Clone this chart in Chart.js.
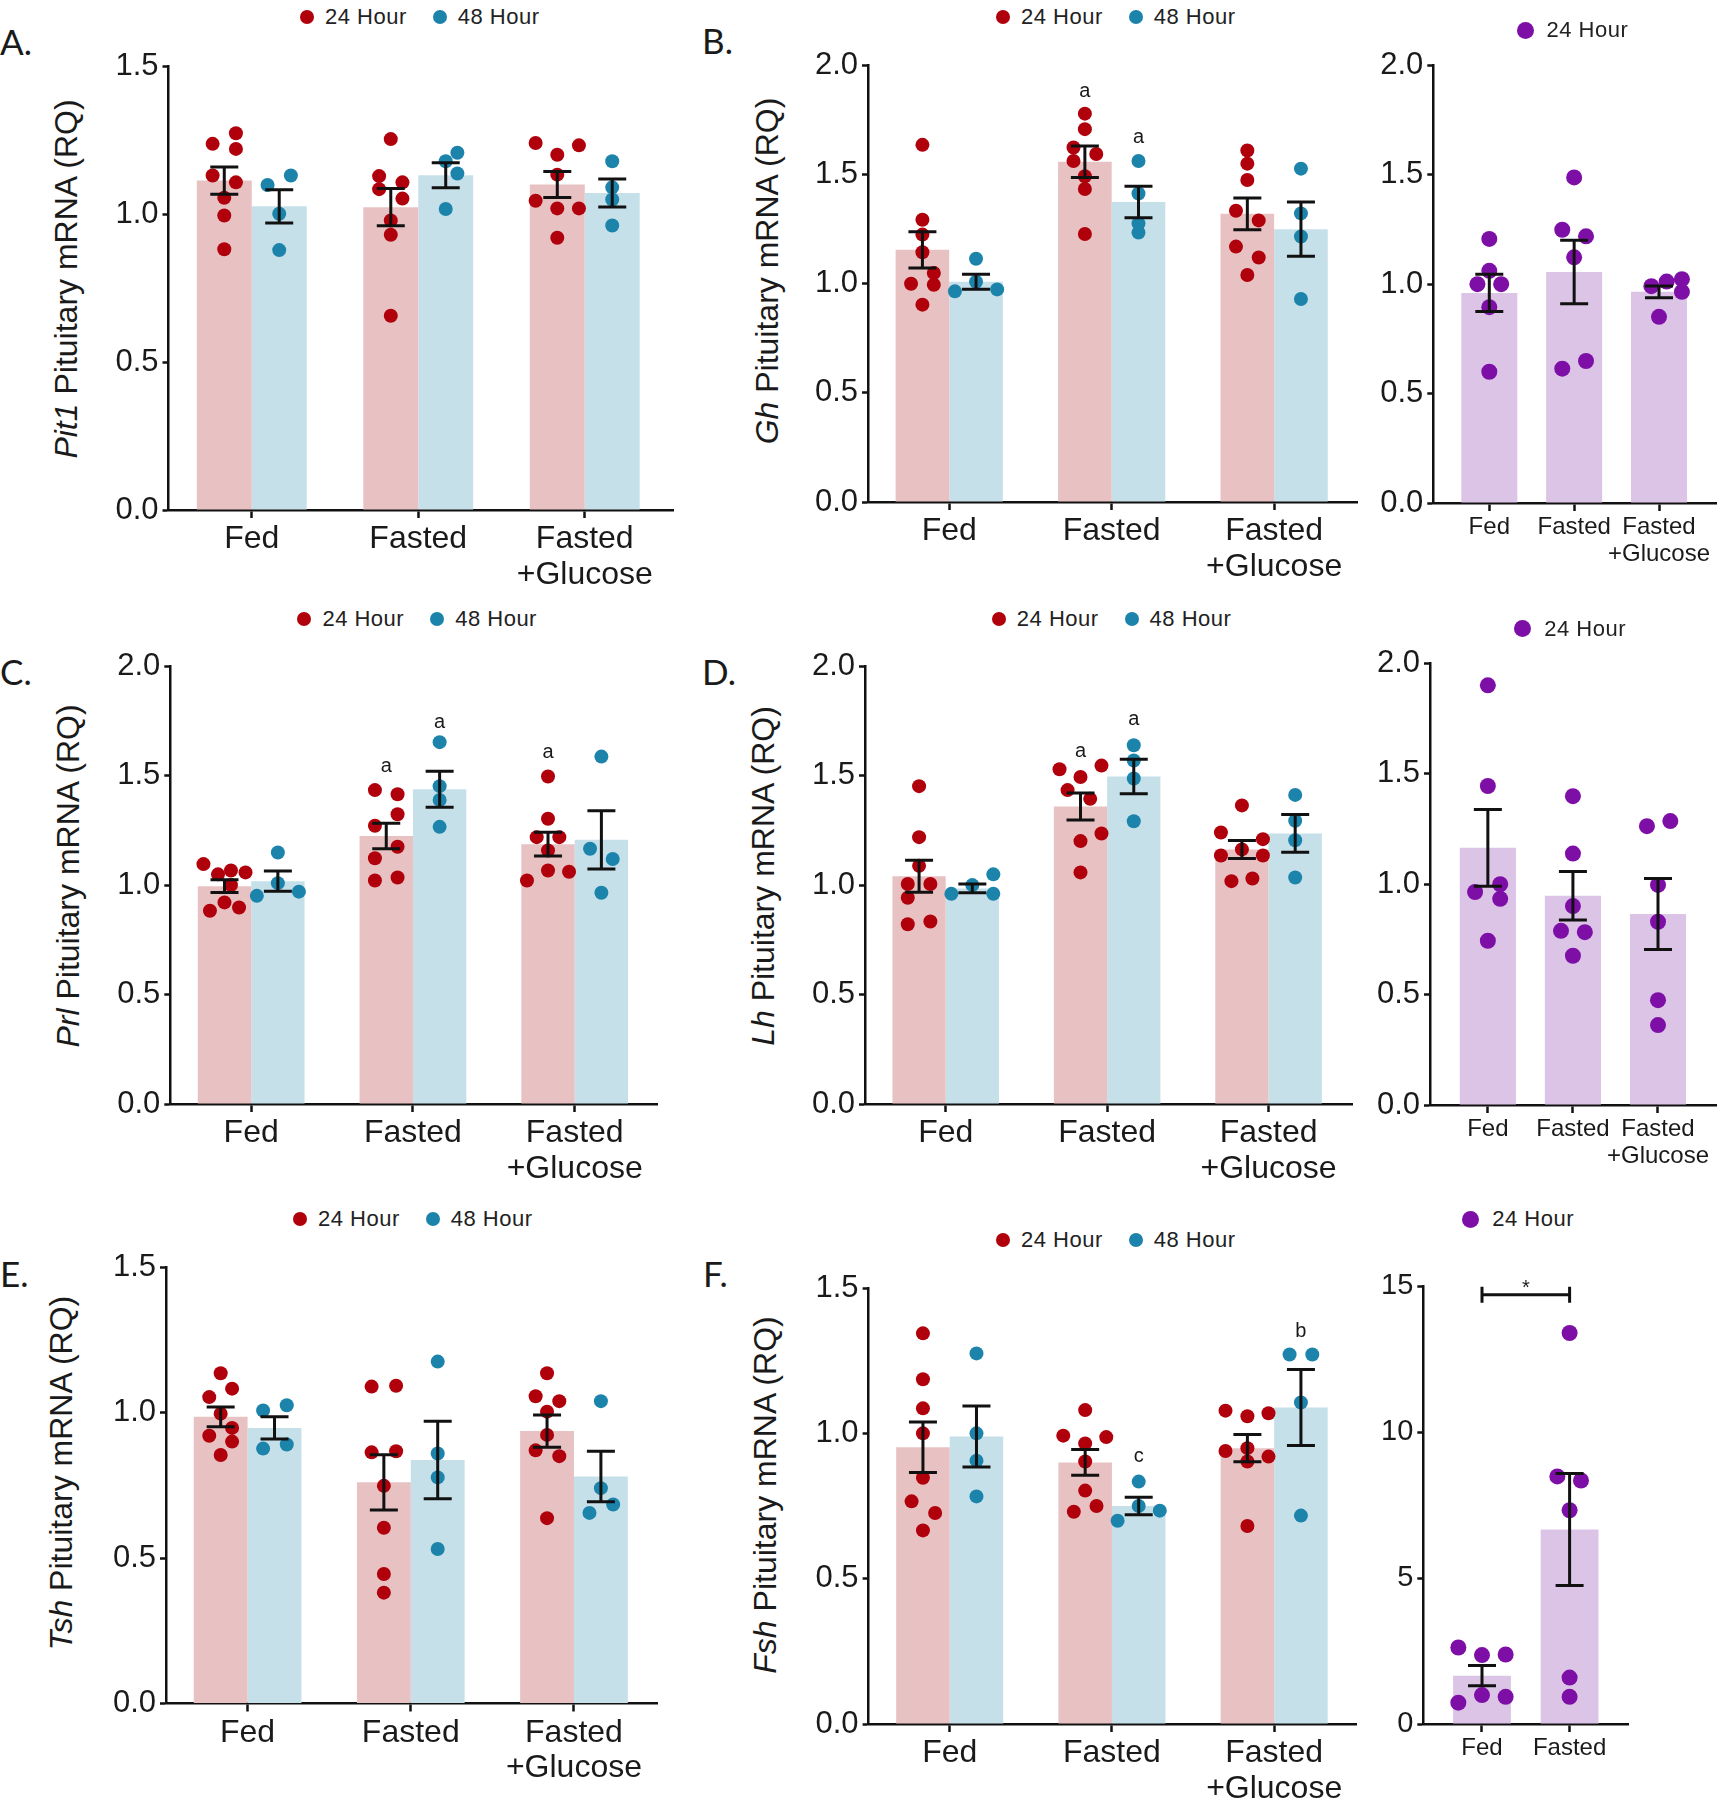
<!DOCTYPE html>
<html>
<head>
<meta charset="utf-8">
<title>Pituitary mRNA after fasting</title>
<script src="https://cdn.jsdelivr.net/npm/chart.js@4.4.1/dist/chart.umd.min.js"></script>
<style>
  html, body { margin: 0; padding: 0; background: #fff; }
  #figure { position: relative; width: 1725px; height: 1800px; overflow: hidden;
            font-family: 'Liberation Sans', Arial, Helvetica, sans-serif; color: #1a1a1a; }
  #figure canvas { position: absolute; }
  .panel-letter { position: absolute; font-family: Lato, 'Open Sans', sans-serif; font-size: 35px;
                  line-height: 1; transform: translateY(-50%); }
  .ytitle { position: absolute; font-size: 32px; white-space: nowrap; line-height: 1;
            transform: translate(-50%, -50%) rotate(-90deg); }
  .legend { position: absolute; display: flex; align-items: center; font-size: 22px; letter-spacing: 0.5px;
            white-space: nowrap; transform: translateY(-50%); color: #222; }
  .legend .item { display: flex; align-items: center; margin-right: 26px; }
  .legend .dot { display: inline-block; border-radius: 50%; margin-right: 11px; }
</style>
</head>
<body>
<div id="figure"></div>
<script>
// Groups and series
const GROUPS3 = ['Fed', 'Fasted', ['Fasted', '+Glucose']];
const GROUPS2 = ['Fed', 'Fasted'];

// A. Pit1
const pit1Mean24 = [1.113, 1.023, 1.100];
const pit1Sem24 = [0.046, 0.063, 0.044];
const pit1Mean48 = [1.026, 1.131, 1.071];
const pit1Sem48 = [0.056, 0.042, 0.047];
const pit1Pts24 = [
    [1.237, 1.273, 1.220, 1.130, 1.107, 1.055, 0.995, 0.881],
    [1.253, 1.128, 1.107, 1.084, 1.052, 0.978, 0.930, 0.656],
    [1.240, 1.232, 1.200, 1.133, 1.045, 1.019, 1.019, 0.920]
];
const pit1Jit24 = [
    [-0.07, 0.07, 0.07, -0.07, 0.07, 0, 0, 0],
    [0, -0.07, 0.07, -0.07, 0.07, 0, 0, 0],
    [-0.13, 0.13, 0, 0, -0.13, 0, 0.13, 0]
];
const pit1Pts48 = [
    [1.098, 1.130, 1.001, 0.878],
    [1.178, 1.207, 1.137, 1.017],
    [1.178, 1.090, 1.049, 0.961]
];
const pit1Jit48 = [[-0.07, 0.07, 0, 0], [0, 0.07, 0.07, 0], [0, 0, 0, 0]];

// B. Gh (24 vs 48 hour)
const ghMean24 = [1.155, 1.559, 1.320];
const ghSem24 = [0.083, 0.072, 0.073];
const ghMean48 = [1.009, 1.374, 1.250];
const ghSem48 = [0.034, 0.072, 0.124];
const ghPts24 = [
    [1.636, 1.293, 1.225, 1.144, 1.049, 1.000, 0.995, 0.904],
    [1.779, 1.708, 1.624, 1.562, 1.594, 1.492, 1.434, 1.228],
    [1.610, 1.550, 1.475, 1.334, 1.290, 1.170, 1.120, 1.040]
];
const ghJit24 = [
    [0, 0, 0, 0, 0.07, -0.07, 0.07, 0],
    [0, 0, -0.07, -0.07, 0.07, 0, 0, 0],
    [0, 0, 0, -0.07, 0.07, -0.07, 0.07, 0]
];
const ghPts48 = [
    [1.114, 1.009, 0.965, 0.974],
    [1.562, 1.413, 1.276, 1.234],
    [1.527, 1.322, 1.216, 0.930]
];
const ghJit48 = [[0, 0, -0.13, 0.13], [0, 0, 0, 0], [0, 0, 0, 0]];

// B. Gh (24 hour only)
const ghOnlyMean = [0.960, 1.056, 0.965];
const ghOnlySem = [0.085, 0.145, 0.027];
const ghOnlyPts = [
    [1.207, 1.061, 1.000, 1.000, 0.895, 0.600],
    [1.488, 1.249, 1.219, 1.123, 0.614, 0.649],
    [0.991, 1.012, 1.023, 0.965, 0.851]
];
const ghOnlyJit = [[0, 0, -0.14, 0.14, 0, 0], [0, -0.14, 0.14, 0, -0.14, 0.14], [-0.09, 0.09, 0.27, 0.27, 0]];

// C. Prl
const prlMean24 = [0.995, 1.224, 1.187];
const prlSem24 = [0.029, 0.058, 0.054];
const prlMean48 = [1.018, 1.438, 1.207];
const prlSem48 = [0.046, 0.082, 0.133];
const prlPts24 = [
    [1.096, 1.049, 1.067, 1.058, 1.000, 0.883, 0.921, 0.898],
    [1.434, 1.415, 1.324, 1.271, 1.175, 1.123, 1.021, 1.035],
    [1.496, 1.303, 1.219, 1.219, 1.158, 1.021, 1.067, 1.061]
];
const prlJit24 = [
    [-0.13, -0.04, 0.04, 0.13, 0.04, -0.09, 0, 0.09],
    [-0.07, 0.07, 0.07, -0.07, 0.07, -0.07, -0.07, 0.07],
    [0, 0, -0.07, 0.07, 0, -0.13, 0, 0.13]
];
const prlPts48 = [
    [1.149, 1.009, 0.951, 0.970],
    [1.653, 1.452, 1.389, 1.266],
    [1.587, 1.166, 1.119, 0.965]
];
const prlJit48 = [[0, 0, -0.13, 0.13], [0, 0, 0, 0], [0, -0.07, 0.07, 0]];

// D. Lh (24 vs 48 hour)
const lhMean24 = [1.040, 1.359, 1.163];
const lhSem24 = [0.073, 0.062, 0.041];
const lhMean48 = [0.985, 1.496, 1.236];
const lhSem48 = [0.020, 0.079, 0.086];
const lhPts24 = [
    [1.452, 1.219, 1.088, 1.005, 1.005, 0.942, 0.821, 0.834],
    [1.529, 1.546, 1.494, 1.434, 1.394, 1.236, 1.201, 1.058],
    [1.364, 1.240, 1.210, 1.163, 1.135, 1.135, 1.018, 1.030]
];
const lhJit24 = [
    [0, 0, 0, -0.07, 0.07, -0.07, -0.07, 0.07],
    [-0.13, 0.13, 0, -0.08, 0.06, 0.13, 0, 0],
    [0, -0.13, 0.13, 0, -0.13, 0.13, -0.065, 0.065]
];
const lhPts48 = [
    [0.960, 1.000, 1.049, 0.960],
    [1.639, 1.569, 1.487, 1.292],
    [1.412, 1.294, 1.205, 1.035]
];
const lhJit48 = [[-0.13, 0, 0.13, 0.13], [0, 0, 0, 0], [0, 0, 0, 0]];

// D. Lh (24 hour only)
const lhOnlyMean = [1.165, 0.948, 0.865];
const lhOnlySem = [0.174, 0.110, 0.161];
const lhOnlyPts = [
    [1.901, 1.445, 0.965, 1.000, 0.934, 0.744],
    [1.399, 1.139, 0.901, 0.789, 0.783, 0.676],
    [1.263, 1.286, 0.997, 0.830, 0.475, 0.362]
];
const lhOnlyJit = [[0, 0, -0.15, 0.145, 0.145, 0], [0, 0, 0, -0.14, 0.14, 0], [-0.13, 0.145, 0, 0, 0, 0]];

// E. Tsh
const tshMean24 = [0.985, 0.760, 0.936];
const tshSem24 = [0.034, 0.095, 0.055];
const tshMean48 = [0.947, 0.837, 0.780];
const tshSem48 = [0.038, 0.133, 0.087];
const tshPts24 = [
    [1.135, 1.053, 1.082, 0.996, 0.920, 0.947, 0.900, 0.854],
    [1.089, 1.092, 0.863, 0.867, 0.748, 0.604, 0.445, 0.381],
    [1.135, 1.056, 1.039, 1.003, 0.923, 0.870, 0.850, 0.637]
];
const tshJit24 = [
    [0, -0.07, 0.07, 0, -0.07, 0.07, 0.07, 0],
    [-0.075, 0.075, -0.075, 0.075, 0, 0, 0, 0],
    [0, -0.07, 0.075, 0, 0, -0.07, 0.075, 0]
];
const tshPts48 = [
    [1.007, 1.025, 0.876, 0.890],
    [1.175, 0.859, 0.777, 0.531],
    [1.039, 0.740, 0.655, 0.684]
];
const tshJit48 = [[-0.07, 0.075, -0.07, 0.075], [0, 0, 0, 0], [0, 0, -0.07, 0.075]];

// F. Fsh (24 vs 48 hour)
const fshMean24 = [0.952, 0.900, 0.949];
const fshSem24 = [0.087, 0.044, 0.047];
const fshMean48 = [0.989, 0.750, 1.089];
const fshSem48 = [0.105, 0.030, 0.131];
const fshPts24 = [
    [1.344, 1.186, 1.086, 1.000, 0.847, 0.766, 0.726, 0.666],
    [1.080, 0.992, 0.987, 0.965, 0.903, 0.803, 0.730, 0.750],
    [1.078, 1.059, 1.069, 0.949, 0.939, 0.920, 0.903, 0.681]
];
const fshJit24 = [
    [0, 0, 0, 0, 0, -0.07, 0.075, 0],
    [0, -0.135, 0.13, 0, 0, 0, -0.07, 0.07],
    [-0.135, 0, 0.13, 0, -0.135, 0.13, 0, 0]
];
const fshPts48 = [
    [1.275, 1.000, 0.906, 0.783],
    [0.834, 0.750, 0.699, 0.734],
    [1.271, 1.271, 1.106, 0.717]
];
const fshJit48 = [[0, 0, 0, 0], [0, 0, -0.13, 0.13], [-0.07, 0.07, 0, 0]];

// F. Fsh (24 hour only)
const fshOnlyMean = [1.656, 6.66];
const fshOnlySem = [0.35, 1.92];
const fshOnlyPts = [
    [2.62, 2.36, 2.38, 0.73, 0.99, 0.93],
    [13.39, 8.48, 8.34, 7.32, 1.59, 0.93]
];
const fshOnlyJit = [[-0.27, 0, 0.27, -0.27, 0, 0.27], [0, -0.14, 0.13, 0, 0, 0]];

// Colours
const INK = '#1a1a1a';
const AXIS = '#111111';
const S24 = { label: '24 Hour', dot: '#b0000c', bar: '#e8c2c3' };
const S48 = { label: '48 Hour', dot: '#1c84ab', bar: '#c6e0ea' };
const SP = { label: '24 Hour', dot: '#7e0fa6', bar: '#dcc4e7' };

Chart.defaults.font.family = "'Liberation Sans', Arial, Helvetica, sans-serif";
Chart.defaults.color = INK;

// Panel layout: area = chart area [left, top, right, bottom] on the page
const panels = [
    { letter: 'A.', letterAt: [0, 41], gene: 'Pit1', titleAt: [65.5, 279], legendAt: [307, 17],
      area: [168.5, 66, 673, 510], xRange: [-0.5, 2.53], yMax: 1.5, yStep: 0.5, groups: GROUPS3,
      series: [
          { ...S24, mean: pit1Mean24, sem: pit1Sem24, pts: pit1Pts24, jit: pit1Jit24 },
          { ...S48, mean: pit1Mean48, sem: pit1Sem48, pts: pit1Pts48, jit: pit1Jit48 }
      ] },
    { letter: 'B.', letterAt: [702, 40], gene: 'Gh', titleAt: [767, 271], legendAt: [1003, 17],
      area: [868, 65.4, 1357, 502], xRange: [-0.5, 2.51], yMax: 2, yStep: 0.5, groups: GROUPS3,
      series: [
          { ...S24, mean: ghMean24, sem: ghSem24, pts: ghPts24, jit: ghJit24 },
          { ...S48, mean: ghMean48, sem: ghSem48, pts: ghPts48, jit: ghJit48 }
      ],
      marks: [{ series: 0, group: 1, y: 1.88, text: 'a' }, { series: 1, group: 1, y: 1.67, text: 'a' }] },
    { legendAt: [1525, 30],
      area: [1433.3, 65.4, 1716.7, 503], xRange: [-0.66, 2.68], yMax: 2, yStep: 0.5, groups: GROUPS3,
      series: [{ ...SP, mean: ghOnlyMean, sem: ghOnlySem, pts: ghOnlyPts, jit: ghOnlyJit }] },
    { letter: 'C.', letterAt: [0, 671], gene: 'Prl', titleAt: [67.7, 876], legendAt: [304.4, 618.5],
      area: [170.3, 666.2, 657.2, 1104], xRange: [-0.5, 2.51], yMax: 2, yStep: 0.5, groups: GROUPS3,
      series: [
          { ...S24, mean: prlMean24, sem: prlSem24, pts: prlPts24, jit: prlJit24 },
          { ...S48, mean: prlMean48, sem: prlSem48, pts: prlPts48, jit: prlJit48 }
      ],
      marks: [{ series: 0, group: 1, y: 1.54, text: 'a' }, { series: 1, group: 1, y: 1.745, text: 'a' },
              { series: 0, group: 2, y: 1.605, text: 'a' }] },
    { letter: 'D.', letterAt: [702, 671], gene: 'Lh', titleAt: [763, 876], legendAt: [998.8, 618.5],
      area: [865, 666.2, 1352.5, 1104], xRange: [-0.5, 2.52], yMax: 2, yStep: 0.5, groups: GROUPS3,
      series: [
          { ...S24, mean: lhMean24, sem: lhSem24, pts: lhPts24, jit: lhJit24 },
          { ...S48, mean: lhMean48, sem: lhSem48, pts: lhPts48, jit: lhJit48 }
      ],
      marks: [{ series: 0, group: 1, y: 1.61, text: 'a' }, { series: 1, group: 1, y: 1.757, text: 'a' }] },
    { legendAt: [1522.7, 628.8],
      area: [1430, 663.5, 1716.7, 1105], xRange: [-0.68, 2.69], yMax: 2, yStep: 0.5, groups: GROUPS3,
      series: [{ ...SP, mean: lhOnlyMean, sem: lhOnlySem, pts: lhOnlyPts, jit: lhOnlyJit }] },
    { letter: 'E.', letterAt: [0, 1273], gene: 'Tsh', titleAt: [61, 1473], legendAt: [300, 1219],
      area: [166, 1267, 657.2, 1703.5], xRange: [-0.5, 2.51], yMax: 1.5, yStep: 0.5, groups: GROUPS3,
      series: [
          { ...S24, mean: tshMean24, sem: tshSem24, pts: tshPts24, jit: tshJit24 },
          { ...S48, mean: tshMean48, sem: tshSem48, pts: tshPts48, jit: tshJit48 }
      ] },
    { letter: 'F.', letterAt: [703, 1273], gene: 'Fsh', titleAt: [765, 1495], legendAt: [1003, 1239.6],
      area: [868.6, 1288, 1356.9, 1724], xRange: [-0.5, 2.51], yMax: 1.5, yStep: 0.5, groups: GROUPS3,
      series: [
          { ...S24, mean: fshMean24, sem: fshSem24, pts: fshPts24, jit: fshJit24 },
          { ...S48, mean: fshMean48, sem: fshSem48, pts: fshPts48, jit: fshJit48 }
      ],
      marks: [{ series: 1, group: 1, y: 0.92, text: 'c' }, { series: 1, group: 2, y: 1.352, text: 'b' }] },
    { legendAt: [1470.7, 1219],
      area: [1423.3, 1286, 1628.3, 1724], xRange: [-0.67, 1.67], yMax: 15, yStep: 5, groups: GROUPS2,
      series: [{ ...SP, mean: fshOnlyMean, sem: fshOnlySem, pts: fshOnlyPts, jit: fshOnlyJit }],
      bracket: { from: 0, to: 1, y: 14.7, textY: 14.9, text: '*' } }
];

// Error bars, letters and the significance bracket
const errorBars = {
    id: 'errorBars',
    afterDatasetsDraw(chart, args, opts) {
        const { ctx } = chart;
        const y = chart.scales.y;
        ctx.save();
        ctx.strokeStyle = AXIS;
        ctx.lineWidth = 3;
        chart.data.datasets.forEach((ds, i) => {
            if (!ds.sem) return;
            chart.getDatasetMeta(i).data.forEach((bar, j) => {
                const m = ds.data[j].y;
                const hi = y.getPixelForValue(m + ds.sem[j]);
                const lo = y.getPixelForValue(m - ds.sem[j]);
                const w = opts.cap;
                ctx.beginPath();
                ctx.moveTo(bar.x, hi); ctx.lineTo(bar.x, lo);
                ctx.moveTo(bar.x - w, hi); ctx.lineTo(bar.x + w, hi);
                ctx.moveTo(bar.x - w, lo); ctx.lineTo(bar.x + w, lo);
                ctx.stroke();
            });
        });

        ctx.fillStyle = INK;
        ctx.font = "20px 'Liberation Sans', Arial, sans-serif";
        ctx.textAlign = 'center';
        ctx.textBaseline = 'middle';
        (opts.marks || []).forEach(mk => {
            const bar = chart.getDatasetMeta(mk.series).data[mk.group];
            ctx.fillText(mk.text, bar.x, y.getPixelForValue(mk.y));
        });

        const br = opts.bracket;
        if (br) {
            const a = chart.getDatasetMeta(0).data[br.from].x;
            const b = chart.getDatasetMeta(0).data[br.to].x;
            const py = y.getPixelForValue(br.y);
            ctx.beginPath();
            ctx.moveTo(a, py); ctx.lineTo(b, py);
            ctx.moveTo(a, py - 8); ctx.lineTo(a, py + 8);
            ctx.moveTo(b, py - 8); ctx.lineTo(b, py + 8);
            ctx.stroke();
            ctx.fillText(br.text, (a + b) / 2, y.getPixelForValue(br.textY));
        }
        ctx.restore();
    }
};

const fig = document.getElementById('figure');

function addText(cls, html, x, y) {
    const el = document.createElement('div');
    el.className = cls;
    el.innerHTML = html;
    el.style.left = x + 'px';
    el.style.top = y + 'px';
    fig.appendChild(el);
}

function addLegend(p, r) {
    const box = document.createElement('div');
    box.className = 'legend';
    box.style.left = (p.legendAt[0] - r) + 'px';
    box.style.top = p.legendAt[1] + 'px';
    p.series.forEach(s => {
        const item = document.createElement('span');
        item.className = 'item';
        const dot = document.createElement('span');
        dot.className = 'dot';
        dot.style.width = dot.style.height = (2 * r) + 'px';
        dot.style.background = s.dot;
        if (r > 7) dot.style.marginRight = '13px';
        item.appendChild(dot);
        item.appendChild(document.createTextNode(s.label));
        box.appendChild(item);
    });
    fig.appendChild(box);
}

function buildPanel(p) {
    const single = p.series.length === 1;
    const [L, T, R, B] = p.area;
    const left = Math.round(L - 72), top = Math.round(T - 26);
    const width = Math.round(R + 10 - left), height = Math.round(B + 84 - top);

    const canvas = document.createElement('canvas');
    canvas.width = width;
    canvas.height = height;
    canvas.style.left = left + 'px';
    canvas.style.top = top + 'px';
    fig.appendChild(canvas);

    const catPct = 0.66;
    const n = p.series.length;
    const dotR = single ? 8 : 7;
    const datasets = [];

    p.series.forEach(s => {
        datasets.push({
            type: 'bar', label: s.label,
            data: s.mean.map((m, i) => ({ x: i, y: m })),
            sem: s.sem,
            backgroundColor: s.bar, borderWidth: 0,
            categoryPercentage: catPct, barPercentage: 1, order: 2
        });
    });
    p.series.forEach((s, k) => {
        const shift = (k - (n - 1) / 2) * catPct / n;
        const pts = [];
        s.pts.forEach((grp, i) => grp.forEach((v, j) => pts.push({ x: i + shift + s.jit[i][j], y: v })));
        datasets.push({
            type: 'scatter', label: s.label, data: pts,
            pointRadius: dotR, pointHoverRadius: dotR,
            pointBackgroundColor: s.dot, pointBorderWidth: 0, order: 1
        });
    });

    const xFont = single ? 24 : 32;
    const yFont = p.yMax > 5 ? 29 : 31;

    new Chart(canvas, {
        type: 'bar',
        data: { datasets },
        options: {
            responsive: false,
            animation: false,
            devicePixelRatio: 1,
            layout: { autoPadding: false, padding: { top: T - top, right: left + width - R, left: 0, bottom: 0 } },
            plugins: {
                legend: { display: false },
                tooltip: { enabled: false },
                errorBars: { cap: 14, marks: p.marks, bracket: p.bracket }
            },
            scales: {
                x: {
                    type: 'linear',
                    min: p.xRange[0],
                    max: p.xRange[1],
                    offset: false,
                    afterFit: s => { s.height = top + height - B; },
                    border: { display: true, color: AXIS, width: 2.5 },
                    grid: { display: true, offset: false, drawOnChartArea: false, drawTicks: true,
                            tickLength: 8, tickWidth: 2.5, tickColor: AXIS },
                    ticks: {
                        stepSize: 1, includeBounds: false, autoSkip: false, maxRotation: 0,
                        padding: single ? 3 : 4, color: INK,
                        font: { size: xFont, lineHeight: single ? 1.12 : 1.1 },
                        callback: v => p.groups[v] ?? ''
                    }
                },
                y: {
                    min: 0,
                    max: p.yMax,
                    afterFit: s => { s.width = L - left; },
                    border: { display: true, color: AXIS, width: 2.5 },
                    grid: { display: true, drawOnChartArea: false, drawTicks: true,
                            tickLength: 6, tickWidth: 2.5, tickColor: AXIS },
                    ticks: {
                        stepSize: p.yStep, padding: 4, color: INK,
                        font: { size: yFont },
                        callback: v => p.yStep < 1 ? v.toFixed(1) : String(v)
                    }
                }
            }
        },
        plugins: [errorBars]
    });

    if (p.letter) addText('panel-letter', p.letter, p.letterAt[0], p.letterAt[1]);
    if (p.gene) addText('ytitle', '<i>' + p.gene + '</i> Pituitary mRNA (RQ)', p.titleAt[0], p.titleAt[1]);
    addLegend(p, single ? 8.5 : 7);
}

panels.forEach(buildPanel);
</script>
</body>
</html>
